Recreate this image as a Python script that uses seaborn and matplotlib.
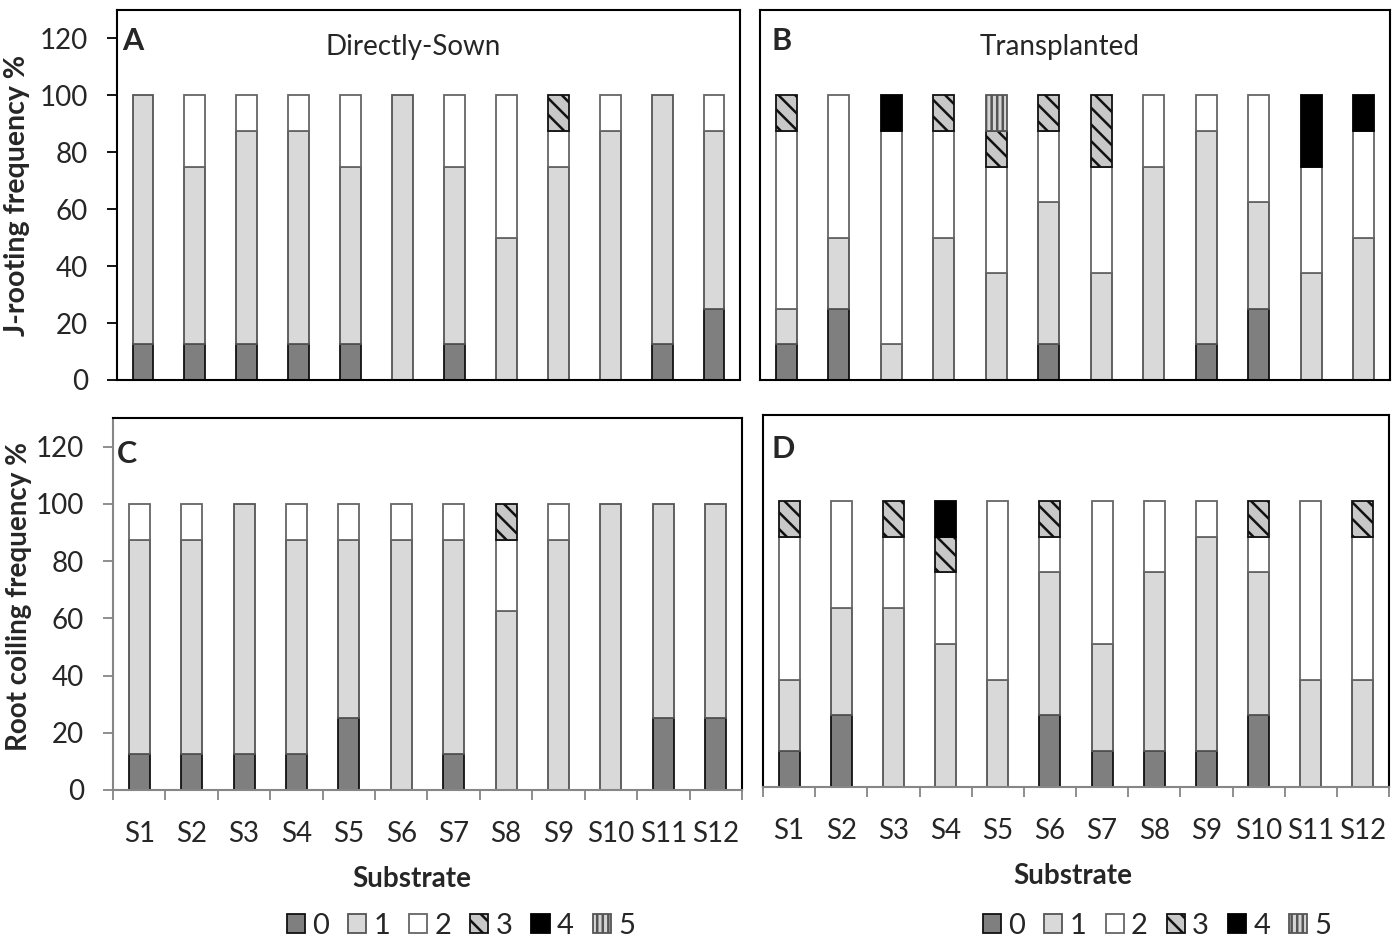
import numpy as np
import pandas as pd
import matplotlib
matplotlib.use('Agg')
import matplotlib.pyplot as plt
from matplotlib.patches import Patch
import seaborn as sns

substrates = [f'S{i}' for i in range(1, 13)]
scores = ['0', '1', '2', '3', '4', '5']

# A: J-rooting, directly-sown
a_0 = [12.5, 12.5, 12.5, 12.5, 12.5, 0, 12.5, 0, 0, 0, 12.5, 25]
a_1 = [87.5, 62.5, 75, 75, 62.5, 100, 62.5, 50, 75, 87.5, 87.5, 62.5]
a_2 = [0, 25, 12.5, 12.5, 25, 0, 25, 50, 12.5, 12.5, 0, 12.5]
a_3 = [0, 0, 0, 0, 0, 0, 0, 0, 12.5, 0, 0, 0]
a_4 = [0] * 12
a_5 = [0] * 12

# B: J-rooting, transplanted
b_0 = [12.5, 25, 0, 0, 0, 12.5, 0, 0, 12.5, 25, 0, 0]
b_1 = [12.5, 25, 12.5, 50, 37.5, 50, 37.5, 75, 75, 37.5, 37.5, 50]
b_2 = [62.5, 50, 75, 37.5, 37.5, 25, 37.5, 25, 12.5, 37.5, 37.5, 37.5]
b_3 = [12.5, 0, 0, 12.5, 12.5, 12.5, 25, 0, 0, 0, 0, 0]
b_4 = [0, 0, 12.5, 0, 0, 0, 0, 0, 0, 0, 25, 12.5]
b_5 = [0, 0, 0, 0, 12.5, 0, 0, 0, 0, 0, 0, 0]

# C: root coiling, directly-sown
c_0 = [12.5, 12.5, 12.5, 12.5, 25, 0, 12.5, 0, 0, 0, 25, 25]
c_1 = [75, 75, 87.5, 75, 62.5, 87.5, 75, 62.5, 87.5, 100, 75, 75]
c_2 = [12.5, 12.5, 0, 12.5, 12.5, 12.5, 12.5, 25, 12.5, 0, 0, 0]
c_3 = [0, 0, 0, 0, 0, 0, 0, 12.5, 0, 0, 0, 0]
c_4 = [0] * 12
c_5 = [0] * 12

# D: root coiling, transplanted
d_0 = [12.5, 25, 0, 0, 0, 25, 12.5, 12.5, 12.5, 25, 0, 0]
d_1 = [25, 37.5, 62.5, 50, 37.5, 50, 37.5, 62.5, 75, 50, 37.5, 37.5]
d_2 = [50, 37.5, 25, 25, 62.5, 12.5, 50, 25, 12.5, 12.5, 62.5, 50]
d_3 = [12.5, 0, 12.5, 12.5, 0, 12.5, 0, 0, 0, 12.5, 0, 12.5]
d_4 = [0, 0, 0, 12.5, 0, 0, 0, 0, 0, 0, 0, 0]
d_5 = [0] * 12

styles = {
    '0': dict(color='#7f7f7f', edgecolor='#111111', hatch=None),
    '1': dict(color='#d9d9d9', edgecolor='#555555', hatch=None),
    '2': dict(color='#ffffff', edgecolor='#666666', hatch=None),
    '3': dict(color='#c8c8c8', edgecolor='#111111', hatch='\\\\'),
    '4': dict(color='#000000', edgecolor='#000000', hatch=None),
    '5': dict(color='#d4d4d4', edgecolor='#555555', hatch='|||'),
}

sns.set_style('white')
plt.rcParams['font.family'] = ['Lato', 'DejaVu Sans']
plt.rcParams['hatch.linewidth'] = 1.8

fig = plt.figure(figsize=(13.97, 9.41), dpi=100)
W, H = 1397, 941


def px_axes(left, right, top, bottom):
    return fig.add_axes([left / W, 1 - bottom / H, (right - left) / W, (bottom - top) / H])


def long_table(series):
    vals = np.array(series, dtype=float)
    bottoms = np.vstack([np.zeros(12), np.cumsum(vals, axis=0)[:-1]])
    rows = []
    for k, s in enumerate(scores):
        for j, sub in enumerate(substrates):
            rows.append((sub, s, vals[k, j], bottoms[k, j]))
    return pd.DataFrame(rows, columns=['substrate', 'score', 'value', 'bottom'])


def draw_stack(ax, series):
    df = long_table(series)
    for s in scores:
        part = df[(df['score'] == s) & (df['value'] > 0)]
        if part.empty:
            continue
        st = styles[s]
        sns.barplot(data=part, x='substrate', y='value', order=substrates,
                    bottom=part['bottom'].to_numpy(), width=0.4, ax=ax,
                    color=st['color'], edgecolor=st['edgecolor'], hatch=st['hatch'],
                    linewidth=1.3, saturation=1, errorbar=None)
    ax.set_xlim(-0.5, 11.5)
    ax.set_ylim(0, 130)
    ax.set_xlabel('')
    ax.set_ylabel('')
    for sp in ax.spines.values():
        sp.set_visible(True)
        sp.set_color('black')
        sp.set_linewidth(1.5)


ax_a = px_axes(117, 740, 10, 380)
ax_b = px_axes(760, 1390, 10, 380)
ax_c = px_axes(113, 742, 418, 790)
ax_d = px_axes(763, 1389, 415, 787)

draw_stack(ax_a, [a_0, a_1, a_2, a_3, a_4, a_5])
draw_stack(ax_b, [b_0, b_1, b_2, b_3, b_4, b_5])
draw_stack(ax_c, [c_0, c_1, c_2, c_3, c_4, c_5])
draw_stack(ax_d, [d_0, d_1, d_2, d_3, d_4, d_5])

# y axes
for ax, col in [(ax_a, 'black'), (ax_c, '#868686')]:
    ax.set_yticks(range(0, 121, 20))
    ax.tick_params(axis='y', left=True, direction='out', length=7, width=1.3,
                   color=col, labelsize=20, pad=14)
    ax.spines['left'].set_color(col)
for ax in [ax_b, ax_d]:
    ax.set_yticks([])

# x axes
for ax in [ax_a, ax_b]:
    ax.set_xticks([])
for ax in [ax_c, ax_d]:
    ax.set_xticks(range(12))
    ax.set_xticklabels(substrates)
    ax.set_xticks(np.arange(-0.5, 12, 1), minor=True)
    ax.tick_params(axis='x', which='major', length=0, labelsize=20, pad=22)
    ax.tick_params(axis='x', which='minor', bottom=True, direction='out',
                   length=7, width=1.3, color='#868686')
    ax.spines['bottom'].set_color('#868686')
    ax.set_xlabel('Substrate', fontsize=20, fontweight='bold')

ax_c.xaxis.set_label_coords(0.475, -0.205)
ax_d.xaxis.set_label_coords(0.495, -0.205)

ax_a.set_ylabel('J-rooting frequency %', fontsize=20.5, fontweight='bold')
ax_a.yaxis.set_label_coords(-0.14, 0.5)
ax_c.set_ylabel('Root coiling frequency %', fontsize=20, fontweight='bold')
ax_c.yaxis.set_label_coords(-0.128, 0.52)

# panel letters and titles
for ax, letter, x, y in [(ax_a, 'A', 0.008, 0.955), (ax_b, 'B', 0.019, 0.955),
                         (ax_c, 'C', 0.006, 0.94), (ax_d, 'D', 0.013, 0.945)]:
    ax.text(x, y, letter, transform=ax.transAxes, ha='left', va='top',
            fontsize=22, fontweight='bold')
ax_a.text(0.475, 0.9, 'Directly-Sown', transform=ax_a.transAxes, ha='center',
          va='center', fontsize=20)
ax_b.text(0.476, 0.9, 'Transplanted', transform=ax_b.transAxes, ha='center',
          va='center', fontsize=20)

# legends
handles = [Patch(facecolor=styles[s]['color'], edgecolor=styles[s]['edgecolor'],
                 hatch=styles[s]['hatch'], linewidth=1.3, label=s) for s in scores]
for ax, x, y in [(ax_c, 0.553, -0.365), (ax_d, 0.63, -0.373)]:
    ax.legend(handles=handles, loc='center', bbox_to_anchor=(x, y), ncol=6,
              frameon=False, fontsize=21, handlelength=0.62, handleheight=0.62,
              handletextpad=0.25, columnspacing=0.65, borderaxespad=0)

fig.savefig('out.png', dpi=100)
